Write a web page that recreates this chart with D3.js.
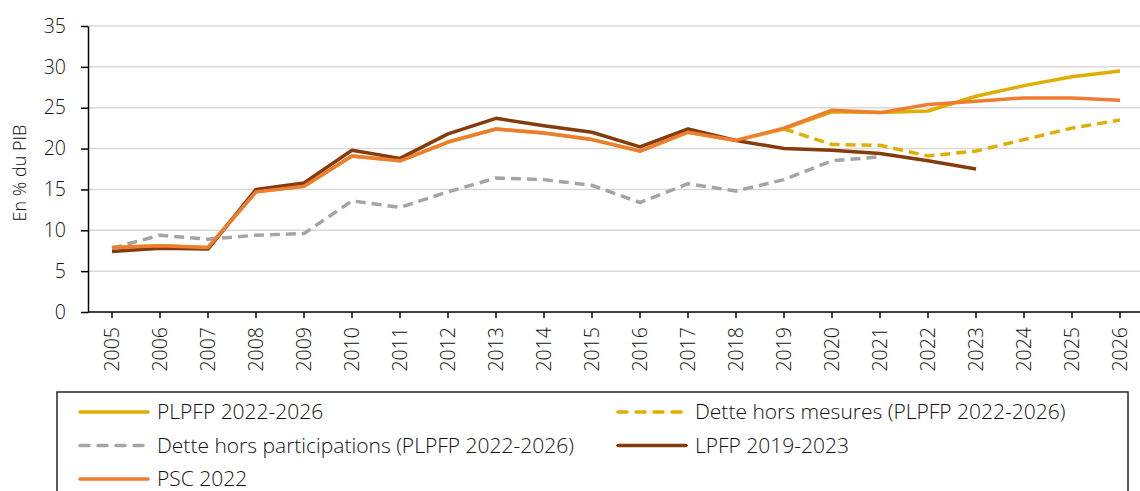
<!DOCTYPE html>
<html>
<head>
<meta charset="utf-8">
<script src="https://cdn.jsdelivr.net/npm/d3@7"></script>
<style>
    body { margin: 0; background: #fff; }
    text { font-family: "Open Sans", sans-serif; font-weight: 300; fill: #111; }
    .grid line { stroke: #d9d9d9; stroke-width: 1.5; }
    .axis path, .axis line { stroke: #000; stroke-width: 1.5; }
</style>
</head>
<body>
<script>
(function(){

    //data
    var years = ["2005","2006","2007","2008","2009","2010","2011","2012","2013","2014","2015",
                 "2016","2017","2018","2019","2020","2021","2022","2023","2024","2025","2026"];
    var yTicks = [0, 5, 10, 15, 20, 25, 30, 35];

    var plpfp = [7.9, 8.1, 7.9, 14.7, 15.4, 19.1, 18.5, 20.8, 22.4, 21.9, 21.1,
                 19.7, 22.0, 21.0, 22.4, 24.5, 24.4, 24.6, 26.4, 27.7, 28.8, 29.5];
    var horsMesures = [null, null, null, null, null, null, null, null, null, null, null,
                       null, null, null, 22.4, 20.5, 20.4, 19.1, 19.7, 21.1, 22.5, 23.5];
    var horsPartic = [7.8, 9.4, 8.9, 9.4, 9.6, 13.6, 12.8, 14.7, 16.4, 16.2, 15.5,
                      13.4, 15.7, 14.8, 16.2, 18.5, 19.0, null, null, null, null, null];
    var lpfp = [7.4, 7.8, 7.7, 15.0, 15.8, 19.8, 18.8, 21.8, 23.7, 22.8, 22.0,
                20.2, 22.4, 21.0, 20.0, 19.8, 19.4, 18.5, 17.5, null, null, null];
    var psc = [7.9, 8.1, 7.9, 14.7, 15.4, 19.1, 18.5, 20.8, 22.4, 21.9, 21.1,
               19.7, 22.0, 21.0, 22.5, 24.7, 24.4, 25.4, 25.8, 26.2, 26.2, 25.9];

    //series in drawing order (last on top)
    var series = [
        {name: "PLPFP 2022-2026", values: plpfp, color: "#dfae00", dash: null},
        {name: "Dette hors mesures (PLPFP 2022-2026)", values: horsMesures, color: "#dfae00", dash: "10,6"},
        {name: "Dette hors participations (PLPFP 2022-2026)", values: horsPartic, color: "#a5a5a5", dash: "10,6"},
        {name: "LPFP 2019-2023", values: lpfp, color: "#843c0c", dash: null},
        {name: "PSC 2022", values: psc, color: "#ed7d31", dash: null}
    ];

    window.onload = setChart();

    function setChart(){
        var width = 1140,
            height = 491,
            left = 88,
            right = 1144,
            top = 26,
            bottom = 312;

        var svg = d3.select("body")
            .append("svg")
            .attr("width", width)
            .attr("height", height);

        var x = d3.scaleBand()
            .domain(years)
            .range([left, right]);

        var y = d3.scaleLinear()
            .domain([0, 35])
            .range([bottom, top]);

        //horizontal gridlines
        svg.append("g")
            .attr("class", "grid")
            .selectAll("line")
            .data(yTicks.slice(1))
            .enter()
            .append("line")
            .attr("x1", left)
            .attr("x2", width)
            .attr("y1", function(d){ return y(d); })
            .attr("y2", function(d){ return y(d); });

        //y axis
        var yAxis = svg.append("g")
            .attr("class", "axis")
            .attr("transform", "translate(" + left + ",0)")
            .call(d3.axisLeft(y).tickValues(yTicks).tickSize(7).tickSizeOuter(0));
        yAxis.selectAll("text")
            .attr("x", -22)
            .style("font-size", "19.5px");

        //x axis
        var xAxis = svg.append("g")
            .attr("class", "axis")
            .attr("transform", "translate(0," + bottom + ")")
            .call(d3.axisBottom(x).tickSize(6).tickSizeOuter(0));
        xAxis.select(".domain").attr("d", "M" + left + ",0H" + width);
        xAxis.selectAll("text")
            .attr("transform", "rotate(-90)")
            .attr("x", -15)
            .attr("y", 0)
            .attr("dy", "0.35em")
            .style("text-anchor", "end")
            .style("font-size", "19.5px");

        svg.selectAll(".axis text").style("fill", "#111");

        //y axis title
        svg.append("text")
            .attr("transform", "translate(26," + ((top + bottom) / 2 + 4) + ") rotate(-90)")
            .attr("text-anchor", "middle")
            .style("font-size", "18px")
            .text("En % du PIB");

        //lines
        var line = d3.line()
            .defined(function(d){ return d != null; })
            .x(function(d, i){ return x(years[i]) + x.bandwidth() / 2; })
            .y(function(d){ return y(d); });

        svg.selectAll(".series")
            .data(series)
            .enter()
            .append("path")
            .attr("class", "series")
            .attr("fill", "none")
            .attr("stroke", function(d){ return d.color; })
            .attr("stroke-width", 3.5)
            .attr("stroke-linejoin", "round")
            .attr("stroke-dasharray", function(d){ return d.dash; })
            .attr("d", function(d){ return line(d.values); });

        //legend box
        svg.append("rect")
            .attr("x", 57)
            .attr("y", 392)
            .attr("width", 1071)
            .attr("height", 120)
            .attr("fill", "none")
            .attr("stroke", "#262626")
            .attr("stroke-width", 1.5);

        var legend = svg.selectAll(".legend")
            .data(series)
            .enter()
            .append("g")
            .attr("class", "legend")
            .attr("transform", function(d, i){
                var col = i % 2, row = Math.floor(i / 2);
                return "translate(" + (col == 0 ? 80 : 618) + "," + (412 + row * 33.5) + ")";
            });

        legend.append("line")
            .attr("x1", 0)
            .attr("x2", 68)
            .attr("stroke", function(d){ return d.color; })
            .attr("stroke-width", 3.5)
            .attr("stroke-linecap", "round")
            .attr("stroke-dasharray", function(d){ return d.dash ? "9,9" : null; });

        legend.append("text")
            .attr("x", 77)
            .attr("dy", "0.35em")
            .style("font-size", "21px")
            .text(function(d){ return d.name; });
    };

})();
</script>
</body>
</html>
